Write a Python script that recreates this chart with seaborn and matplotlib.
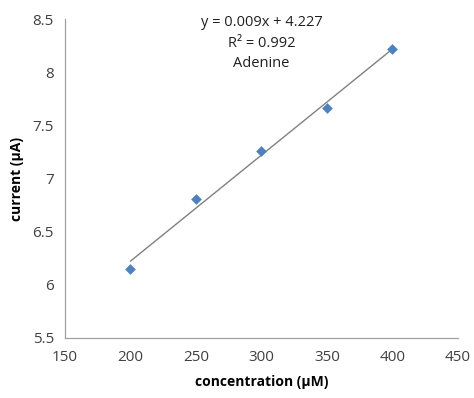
import numpy as np
import matplotlib
matplotlib.use("Agg")
import matplotlib.pyplot as plt
import seaborn as sns
import pandas as pd

concentration = [200, 250, 300, 350, 400]
current = [6.15, 6.81, 7.26, 7.66, 8.22]
x_ticks = [150, 200, 250, 300, 350, 400, 450]
y_ticks = [5.5, 6, 6.5, 7, 7.5, 8, 8.5]
annotation = ["y = 0.009x + 4.227", "R² = 0.992", "Adenine"]

sns.set_style("white")
plt.rcParams['font.family'] = ['Open Sans', 'DejaVu Sans']

df = pd.DataFrame({"concentration": concentration, "current": current})

fig = plt.figure(figsize=(4.74, 3.98), dpi=100)
ax = fig.add_axes([0.137, 0.151, 0.829, 0.801])

coef = np.polyfit(df["concentration"], df["current"], 1)
xs = np.array([min(concentration), max(concentration)])
sns.lineplot(x=xs, y=np.polyval(coef, xs), ax=ax, color="#808080", linewidth=1.0)
sns.scatterplot(data=df, x="concentration", y="current", ax=ax, marker="D",
                color="#4F81BD", s=30, edgecolor="#4F81BD", linewidth=0, zorder=3)

ax.set_xlim(150, 450)
ax.set_ylim(5.5, 8.5)
ax.set_xticks(x_ticks)
ax.set_xticklabels([str(t) for t in x_ticks])
ax.set_yticks(y_ticks)
ax.set_yticklabels([f"{t:g}" for t in y_ticks])
ax.tick_params(axis="both", labelsize=11, length=4, width=0.8,
               direction="out", colors="#A0A0A0", labelcolor="#404040")
ax.tick_params(axis="x", pad=5)
ax.tick_params(axis="y", pad=4)
for s in ["top", "right"]:
    ax.spines[s].set_visible(False)
for s in ["left", "bottom"]:
    ax.spines[s].set_color("#A0A0A0")
    ax.spines[s].set_linewidth(0.9)

ax.set_xlabel("concentration (µM)", fontsize=10, fontweight="bold", color="#000000", labelpad=7)
ax.set_ylabel("current (µA)", fontsize=10, fontweight="bold", color="#000000", labelpad=6)

ax.text(300, 8.535, "\n".join(annotation), ha="center", va="top", fontsize=10.5,
        color="#202020", linespacing=1.5)

fig.savefig("out.png", dpi=100)
